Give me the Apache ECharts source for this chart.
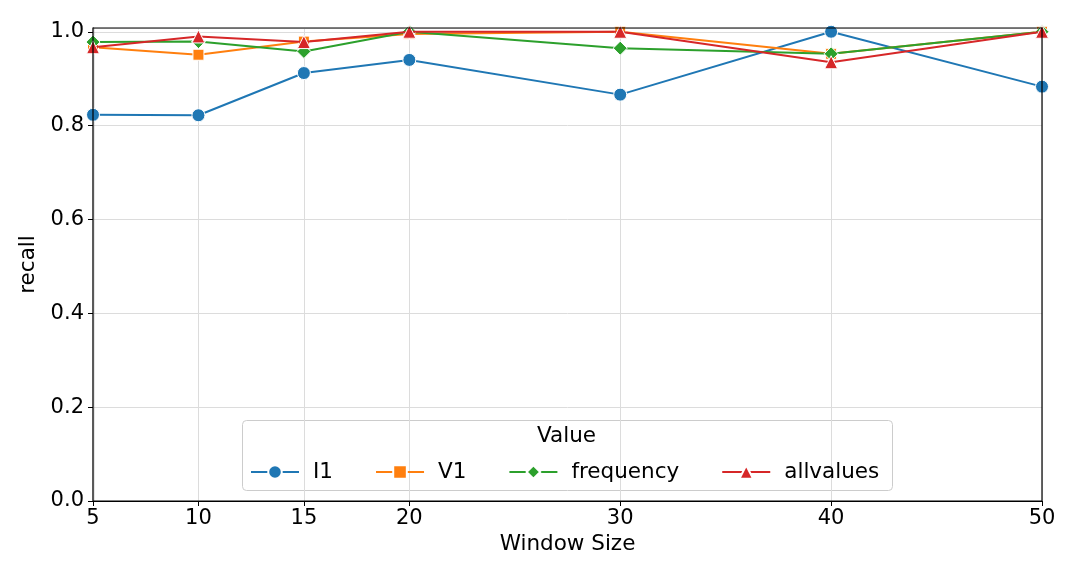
<!DOCTYPE html>
<html><head><meta charset="utf-8">
<script src="https://cdn.jsdelivr.net/npm/echarts@6/dist/echarts.min.js"></script>
<style>html,body{margin:0;padding:0;background:#fff}#c{width:1080px;height:581px}</style>
</head><body><div id="c"></div>
<script>
const windowSizes = [5, 10, 15, 20, 30, 40, 50];
const I1 = [0.823, 0.822, 0.912, 0.940, 0.866, 1.000, 0.883];
const V1 = [0.967, 0.951, 0.979, 0.995, 1.000, 0.953, 1.000];
const frequency = [0.978, 0.979, 0.958, 1.000, 0.965, 0.953, 1.000];
const allvalues = [0.967, 0.990, 0.978, 1.000, 1.000, 0.935, 1.000];
const seriesNames = ['I1','V1','frequency','allvalues'];
const seriesData = [I1, V1, frequency, allvalues];
const colors = ['#1f77b4','#ff7f0e','#2ca02c','#d62728'];
const symbols = ['circle','rect','diamond','triangle'];
const symbolSizes = [13, 11, 14, 13];
const font = 'DejaVu Sans';

const chart = echarts.init(document.getElementById('c'));
const series = seriesNames.map((n, i) => ({
  name: n, type: 'line', data: windowSizes.map((x, j) => [x, seriesData[i][j]]),
  symbol: symbols[i], symbolSize: symbolSizes[i], showAllSymbol: true,
  lineStyle: {color: colors[i], width: 2},
  itemStyle: {color: colors[i], borderColor: '#fff', borderWidth: 1},
  z: 3 + i
}));
// vertical grid lines at each window size
series[0].markLine = {
  silent: true, symbol: 'none', label: {show: false}, z: 1,
  lineStyle: {color: '#dcdcdc', width: 1, type: 'solid'},
  data: windowSizes.map(x => ({xAxis: x}))
};

chart.setOption({
  animation: false,
  textStyle: {fontFamily: font},
  grid: {left: 93, right: 38, top: 28, bottom: 80, show: true, borderColor: '#000', borderWidth: 1.2, backgroundColor: 'transparent', z: 10},
  xAxis: {
    type: 'value', min: 5, max: 50,
    name: 'Window Size', nameLocation: 'middle', nameGap: 32,
    nameTextStyle: {fontSize: 21.5, color: '#000', fontFamily: font},
    axisLine: {lineStyle: {color: '#000', width: 1.2}},
    axisTick: {show: true, length: 5, lineStyle: {color: '#000'}, customValues: windowSizes},
    axisLabel: {fontSize: 21, color: '#000', margin: 7, fontFamily: font, customValues: windowSizes},
    splitLine: {show: false}
  },
  yAxis: {
    type: 'value', min: 0, max: 1.008, interval: 0.2,
    name: 'recall', nameLocation: 'middle', nameGap: 46,
    nameTextStyle: {fontSize: 21.5, color: '#000', fontFamily: font},
    axisLine: {show: true, lineStyle: {color: '#000', width: 1.2}},
    axisTick: {show: true, length: 5, lineStyle: {color: '#000'}},
    axisLabel: {fontSize: 21, color: '#000', margin: 9, fontFamily: font, showMaxLabel: false,
      formatter: v => v.toFixed(1)},
    splitLine: {show: true, lineStyle: {color: '#dcdcdc', width: 1}}
  },
  legend: {
    data: seriesNames, left: 245, top: 456, orient: 'horizontal',
    itemWidth: 48, itemHeight: 17, itemGap: 42,
    textStyle: {fontSize: 21.5, color: '#000', fontFamily: font, padding: [0,0,0,9]}
  },
  graphic: [
    {type: 'rect', left: 242, top: 420, z: 0,
      shape: {width: 650, height: 70, r: 4},
      style: {fill: 'rgba(255,255,255,0.8)', stroke: '#cccccc', lineWidth: 1}},
    {type: 'text', left: 537, top: 425, z: 10,
      style: {text: 'Value', fontSize: 21.5, fill: '#000', fontFamily: font}}
  ],
  series: series
});
</script></body></html>
